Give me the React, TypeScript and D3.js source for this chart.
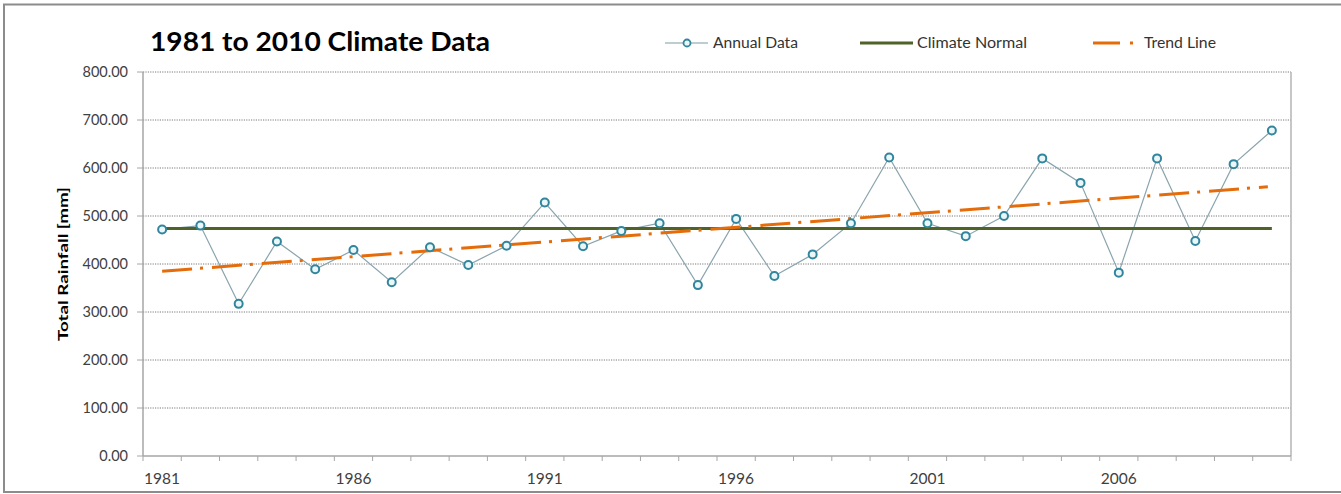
import React from "react";
import * as d3 from "d3";

const years: number[] = [1981,1982,1983,1984,1985,1986,1987,1988,1989,1990,1991,1992,1993,1994,1995,1996,1997,1998,1999,2000,2001,2002,2003,2004,2005,2006,2007,2008,2009,2010];
const rainfall: number[] = [472,480,317,447,389,429,362,435,398,438,528,437,469,485,356,494,375,420,485,622,485,458,500,620,569,382,620,448,608,678];
const climateNormal = 474;
const trendEnds: number[] = [385, 561];
const yTicks: number[] = [0,100,200,300,400,500,600,700,800];
const xLabelYears: number[] = [1981,1986,1991,1996,2001,2006];

const W = 1341, H = 494;
const M = { left: 143, right: 1291, top: 72, bottom: 456 };
const FONT = "Lato, 'Open Sans', sans-serif";

export default function App() {
  const x = d3.scaleBand<number>().domain(years).range([M.left, M.right]).padding(0);
  const cx = (yr: number) => (x(yr) as number) + x.bandwidth() / 2;
  const y = d3.scaleLinear().domain([0, 800]).range([M.bottom, M.top]);

  const line = d3.line<number>().x((_, i) => cx(years[i])).y((d) => y(d));
  const first = years[0], last = years[years.length - 1];
  const boundaries = years.map((yr) => x(yr) as number).concat([M.right]);

  return (
    <svg width={W} height={H} style={{ position: "fixed", left: 0, top: 0, background: "#fff" }} fontFamily={FONT}>
      <rect x={4} y={4.5} width={W + 10} height={487.5} fill="#fff" stroke="#8c8c8c" strokeWidth={2} />
      {/* title */}
      <text x={150} y={51} fontSize={26} fontWeight={700} fill="#000" textLength={340} lengthAdjust="spacingAndGlyphs">1981 to 2010 Climate Data</text>
      {/* legend */}
      <g fontSize={14.5} fill="#333">
        <line x1={665} x2={708} y1={43} y2={43} stroke="#7f9ba6" strokeWidth={1.2} />
        <circle cx={687} cy={43} r={3.5} fill="#eaf6f8" stroke="#31859c" strokeWidth={1.8} />
        <text x={713} y={48} textLength={85} lengthAdjust="spacingAndGlyphs">Annual Data</text>
        <line x1={860} x2={913} y1={43} y2={43} stroke="#4f6228" strokeWidth={3} />
        <text x={917} y={48} textLength={110} lengthAdjust="spacingAndGlyphs">Climate Normal</text>
        <line x1={1093} x2={1120} y1={43} y2={43} stroke="#e46c0a" strokeWidth={3} />
        <line x1={1130} x2={1133} y1={43} y2={43} stroke="#e46c0a" strokeWidth={3} />
        <text x={1144} y={48} textLength={72} lengthAdjust="spacingAndGlyphs">Trend Line</text>
      </g>
      {/* gridlines */}
      {yTicks.filter((t) => t > 0).map((t) => (
        <line key={t} x1={M.left} x2={M.right} y1={y(t)} y2={y(t)} stroke="#7a7a7a" strokeWidth={1} strokeDasharray="1.2 1.2" />
      ))}
      {/* plot border right */}
      <line x1={M.right} x2={M.right} y1={M.top} y2={M.bottom} stroke="#b5b5b5" strokeWidth={1.5} />
      {/* axes */}
      <line x1={M.left} x2={M.left} y1={M.top} y2={M.bottom} stroke="#a6a6a6" strokeWidth={1.5} />
      <line x1={M.left} x2={M.right} y1={M.bottom} y2={M.bottom} stroke="#a6a6a6" strokeWidth={1.5} />
      {yTicks.map((t) => (
        <g key={t}>
          <line x1={M.left - 6} x2={M.left} y1={y(t)} y2={y(t)} stroke="#a6a6a6" strokeWidth={1} />
          <text x={128} y={y(t) + 5} textAnchor="end" fontSize={14.5} fill="#404040">{t.toFixed(2)}</text>
        </g>
      ))}
      {boundaries.map((b, i) => (
        <line key={i} x1={b} x2={b} y1={M.bottom} y2={M.bottom + 5} stroke="#a6a6a6" strokeWidth={1} />
      ))}
      {xLabelYears.map((yr) => (
        <text key={yr} x={cx(yr)} y={484} textAnchor="middle" fontSize={15} fill="#404040" textLength={36} lengthAdjust="spacingAndGlyphs">{yr}</text>
      ))}
      <text transform={`translate(68,264) rotate(-90)`} textAnchor="middle" fontSize={14} fontWeight={700} fill="#000" textLength={154} lengthAdjust="spacingAndGlyphs">Total Rainfall [mm]</text>
      {/* series */}
      <path d={line(rainfall) || ""} fill="none" stroke="#8aa4ae" strokeWidth={1.2} />
      <line x1={cx(first)} x2={cx(last)} y1={y(climateNormal)} y2={y(climateNormal)} stroke="#4f6228" strokeWidth={3} />
      <line x1={cx(first)} x2={cx(last) - 4} y1={y(trendEnds[0])} y2={y(trendEnds[1])} stroke="#e46c0a" strokeWidth={3} strokeDasharray="30 8 3 9" />
      {rainfall.map((v, i) => (
        <circle key={i} cx={cx(years[i])} cy={y(v)} r={4} fill="#eaf6f8" stroke="#31859c" strokeWidth={2} />
      ))}
    </svg>
  );
}
